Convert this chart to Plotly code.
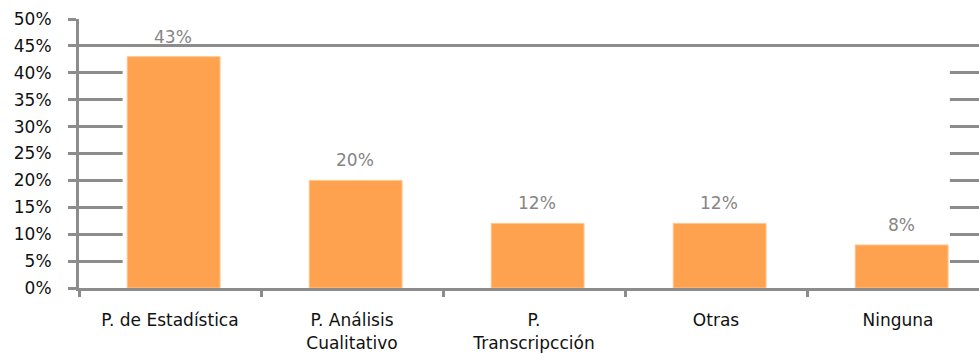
import plotly.graph_objects as go

# Software usage by category (share of respondents)
categories = ["P. de Estadística", "P. Análisis<br>Cualitativo", "P.<br>Transcripcción", "Otras", "Ninguna"]
values = [0.43, 0.20, 0.12, 0.12, 0.08]
value_labels = ["43%", "20%", "12%", "12%", "8%"]

bar_color = "#FFA24F"
axis_gray = "#8C8C8C"
label_gray = "#858585"
font_family = "DejaVu Sans"

fig = go.Figure()
fig.add_trace(go.Bar(
    x=categories,
    y=values,
    width=0.51,
    offset=-0.235,
    marker=dict(color=bar_color, line=dict(color="#FFC58C", width=1)),
    hoverinfo="skip",
))

# White backdrop behind the bars: hides gridlines between the first and last bar
# up to the height of the tallest bar
fig.add_shape(
    type="rect", xref="x", yref="y",
    x0=-0.26, x1=4.285, y0=0, y1=max(values),
    fillcolor="white", line=dict(width=0), layer="between",
)

for cat, val, lab in zip(categories, values, value_labels):
    fig.add_annotation(
        x=cat, y=val, text=lab, showarrow=False,
        xshift=3, yanchor="bottom", yshift=8,
        font=dict(family=font_family, size=17, color=label_gray),
    )

fig.update_layout(
    width=979, height=353,
    margin=dict(l=79, r=0, t=19, b=65),
    paper_bgcolor="white", plot_bgcolor="white",
    showlegend=False,
    font=dict(family=font_family, size=17, color="#111111"),
)
fig.update_xaxes(
    type="category",
    range=[-0.5, 4.445],
    showline=True, linecolor=axis_gray, linewidth=3,
    ticks="outside", tickson="boundaries", ticklen=6, tickwidth=3, tickcolor=axis_gray,
    ticklabelstandoff=15,
    showgrid=False,
    tickfont=dict(family=font_family, size=17, color="#111111"),
)
fig.update_yaxes(
    range=[0, 0.5], dtick=0.05, tickformat=".0%",
    showline=True, linecolor=axis_gray, linewidth=3,
    ticks="outside", ticklen=8, tickwidth=3, tickcolor=axis_gray,
    ticklabelstandoff=13,
    showgrid=True, gridcolor=axis_gray, gridwidth=3,
    zeroline=False,
    tickfont=dict(family=font_family, size=17, color="#111111"),
)

fig.write_html("out.html")
